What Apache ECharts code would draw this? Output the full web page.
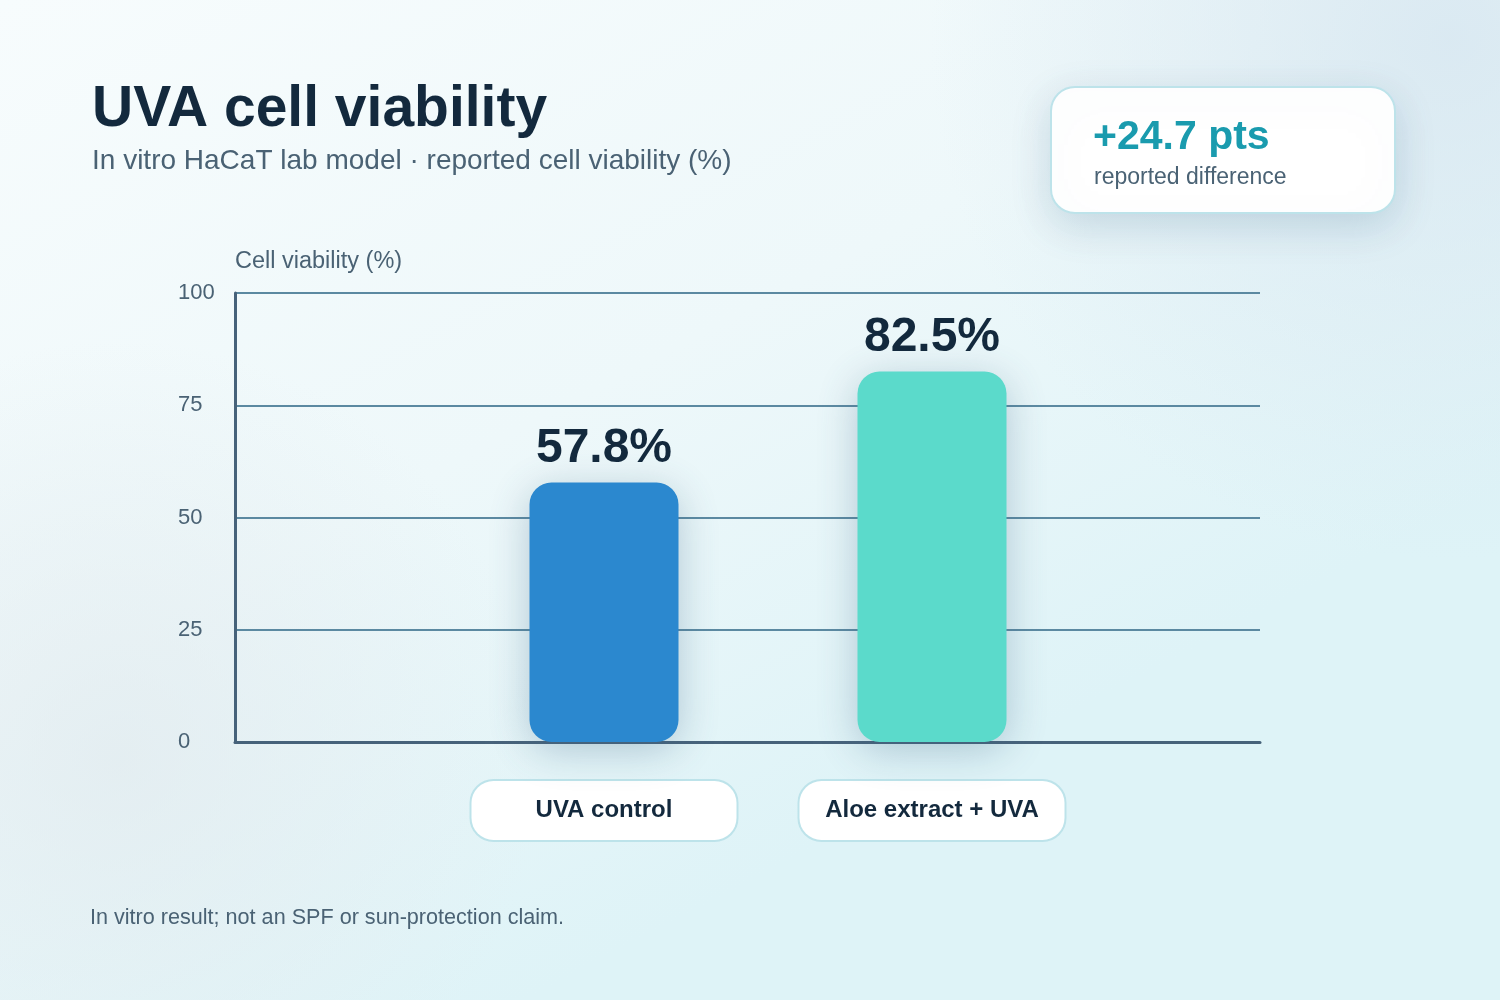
<!DOCTYPE html>
<html>
<head>
<meta charset="utf-8">
<script src="https://cdn.jsdelivr.net/npm/echarts@6/dist/echarts.min.js"></script>
<style>
html,body{margin:0;padding:0;background:#f3fafc;}
#chart{width:1500px;height:1000px;}
</style>
</head>
<body>
<div id="chart"></div>
<script>
const categories = ['UVA control', 'Aloe extract + UVA'];
const viability = [57.8, 82.5];
const barColors = ['#2B88CF', '#5BDACB'];
const yTicks = [0, 25, 50, 75, 100];
const titleText = 'UVA cell viability';
const subtitleText = 'In vitro HaCaT lab model \u00b7 reported cell viability (%)';
const calloutValue = '+24.7 pts';
const calloutLabel = 'reported difference';
const footnote = 'In vitro result; not an SPF or sun-protection claim.';
const yName = 'Cell viability (%)';

const FONT = '"Liberation Sans", Arial, Helvetica, sans-serif';
const chart = echarts.init(document.getElementById('chart'), null, {renderer: 'canvas'});

const option = {
  animation: false,
  textStyle: {fontFamily: FONT},
  graphic: [
    {type: 'rect', z: -10, shape: {x: 0, y: 0, width: 1500, height: 1000},
     style: {fill: new echarts.graphic.LinearGradient(0, 0, 0.35, 1, [
       {offset: 0, color: '#F7FCFD'}, {offset: 0.55, color: '#EEF8FA'}, {offset: 1, color: '#DEF3F7'}])}},
    {type: 'circle', z: -9, shape: {cx: 1450, cy: 40, r: 520},
     style: {fill: new echarts.graphic.RadialGradient(0.5, 0.5, 0.5, [
       {offset: 0, color: 'rgba(214,230,240,0.8)'}, {offset: 1, color: 'rgba(214,230,240,0)'}])}},
    {type: 'circle', z: -9, shape: {cx: 120, cy: 760, r: 420},
     style: {fill: new echarts.graphic.RadialGradient(0.5, 0.5, 0.5, [
       {offset: 0, color: 'rgba(225,234,238,0.7)'}, {offset: 1, color: 'rgba(225,234,238,0)'}])}},
    {type: 'text', left: 92, top: 82, z: 10,
     style: {text: titleText, font: 'bold 57px ' + FONT, fill: '#13293D'}},
    {type: 'text', left: 92, top: 147, z: 10,
     style: {text: subtitleText, font: '28px ' + FONT, fill: '#4A6274'}},
    {type: 'rect', z: 5, shape: {x: 1051, y: 87, width: 344, height: 126, r: 24},
     style: {fill: '#FFFFFF', stroke: '#BDE3EA', lineWidth: 2,
             shadowBlur: 40, shadowColor: 'rgba(70,110,140,0.22)', shadowOffsetY: 12}},
    {type: 'text', left: 1093, top: 117, z: 10,
     style: {text: calloutValue, font: 'bold 41px ' + FONT, fill: '#1A9BAE'}},
    {type: 'text', left: 1094, top: 166, z: 10,
     style: {text: calloutLabel, font: '23px ' + FONT, fill: '#4A6274'}},
    {type: 'text', left: 90, top: 907, z: 10,
     style: {text: footnote, font: '21.6px ' + FONT, fill: '#4A6274'}}
  ],
  grid: [
    {left: 235, right: 240, top: 293, bottom: 258},
    {left: 440, right: 404, top: 293, bottom: 258}
  ],
  xAxis: [
    {gridIndex: 0, type: 'value', min: 0, max: 1, axisLabel: {show: false}, axisTick: {show: false},
     splitLine: {show: false}, axisLine: {show: true, lineStyle: {color: '#46627A', width: 3}}},
    {gridIndex: 1, type: 'category', data: categories,
     axisLine: {show: false}, axisTick: {show: false},
     axisLabel: {margin: 37, interval: 0, formatter: v => '{b|' + v + '}',
       rich: {b: {fontFamily: FONT, fontSize: 24, fontWeight: 'bold', color: '#13293D',
         backgroundColor: '#FFFFFF', borderColor: '#BDE3EA', borderWidth: 2, borderRadius: 22,
         width: 265, height: 59, lineHeight: 63, align: 'center'}}}}
  ],
  yAxis: [
    {gridIndex: 0, type: 'value', min: 0, max: 100, interval: 25,
     name: yName, nameLocation: 'end', nameGap: 19,
     nameTextStyle: {fontFamily: FONT, fontSize: 23.5, color: '#4A6274', align: 'left'},
     axisLine: {show: true, lineStyle: {color: '#46627A', width: 3}},
     axisTick: {show: false},
     axisLabel: {margin: 57, align: 'left', fontFamily: FONT, fontSize: 22, color: '#4A6274'},
     splitLine: {show: true, lineStyle: {color: '#5B89A1', width: 2}}},
    {gridIndex: 1, type: 'value', min: 0, max: 100, show: false, splitLine: {show: false}}
  ],
  series: [{
    type: 'bar', xAxisIndex: 1, yAxisIndex: 1, barWidth: 149, z: 3,
    data: viability.map((v, i) => ({value: v, itemStyle: {color: barColors[i]}})),
    itemStyle: {borderRadius: 22, shadowBlur: 40, shadowColor: 'rgba(60,100,130,0.32)', shadowOffsetY: 8},
    label: {show: true, position: 'top', distance: 10, formatter: p => p.value + '%',
      fontFamily: FONT, fontSize: 48, fontWeight: 'bold', color: '#13293D'}
  }]
};
chart.setOption(option);
</script>
</body>
</html>
